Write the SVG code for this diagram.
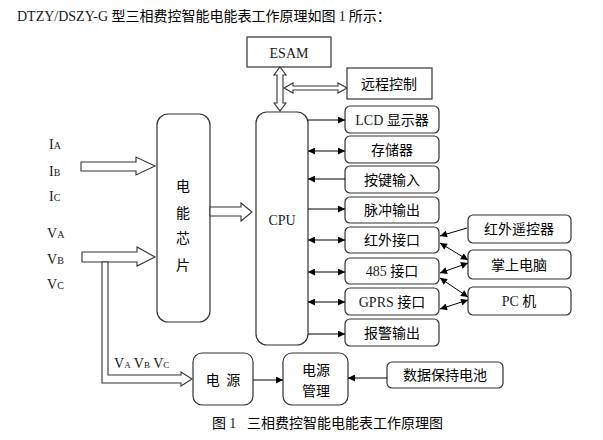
<svg xmlns="http://www.w3.org/2000/svg" width="603" height="440" viewBox="0 0 603 440">
<style>
.box{fill:#fff;stroke:#333;stroke-width:1.2}
.ln{stroke:#000;stroke-width:1;fill:none}
.ha{fill:#fff;stroke:#333;stroke-width:1.1}
.cn{font-family:"Noto Sans CJK SC","Noto Sans",sans-serif;font-size:14px;fill:#000}
.lt{font-family:"Liberation Serif","Noto Sans CJK SC",serif;font-size:14px;fill:#1a1a1a}
.sub{font-size:10px}
</style>
<defs>
<marker id="ah" viewBox="0 0 10 10" refX="10" refY="5" markerWidth="9" markerHeight="7" markerUnits="userSpaceOnUse" orient="auto-start-reverse">
<path d="M0,0 L10,5 L0,10 z" fill="#000"/>
</marker>
</defs>

<text x="17" y="21"><tspan class="lt" font-size="14.7">DTZY/DSZY-G </tspan><tspan class="cn" font-size="14.2">型三相费控智能电能表工作原理如图 </tspan><tspan class="lt" font-size="14.7">1</tspan><tspan class="cn" font-size="14.2"> 所示：</tspan></text>

<g id="esam"><rect class="box" x="247" y="37" width="84" height="30"/><text class="lt" x="289" y="58" text-anchor="middle">ESAM</text></g>
<g id="remote"><rect class="box" x="347" y="68" width="85" height="31"/><text class="cn" x="389" y="89" text-anchor="middle">远程控制</text></g>
<g id="chip"><rect class="box" x="157" y="114" width="53" height="208" rx="11"/>
<text class="cn" x="183" y="191" text-anchor="middle">电</text>
<text class="cn" x="183" y="218" text-anchor="middle">能</text>
<text class="cn" x="183" y="243" text-anchor="middle">芯</text>
<text class="cn" x="183" y="270" text-anchor="middle">片</text></g>
<g id="cpu"><rect class="box" x="256" y="112" width="52" height="233" rx="11"/><text class="lt" x="282" y="225" text-anchor="middle">CPU</text></g>

<g id="lcd"><rect class="box" x="345" y="106" width="94" height="27" rx="5"/><text x="392" y="125" text-anchor="middle"><tspan class="lt">LCD </tspan><tspan class="cn">显示器</tspan></text></g>
<g id="mem"><rect class="box" x="345" y="136" width="94" height="27" rx="5"/><text class="cn" x="392" y="155" text-anchor="middle">存储器</text></g>
<g id="key"><rect class="box" x="345" y="166" width="94" height="27" rx="5"/><text class="cn" x="392" y="185" text-anchor="middle">按键输入</text></g>
<g id="pulse"><rect class="box" x="345" y="197" width="94" height="26" rx="5"/><text class="cn" x="392" y="215" text-anchor="middle">脉冲输出</text></g>
<g id="ir"><rect class="box" x="345" y="227" width="94" height="26" rx="5"/><text class="cn" x="392" y="245" text-anchor="middle">红外接口</text></g>
<g id="rs485"><rect class="box" x="345" y="258" width="94" height="26" rx="5"/><text x="392" y="276" text-anchor="middle"><tspan class="lt">485 </tspan><tspan class="cn">接口</tspan></text></g>
<g id="gprs"><rect class="box" x="345" y="288" width="94" height="27" rx="5"/><text x="392" y="307" text-anchor="middle"><tspan class="lt">GPRS </tspan><tspan class="cn">接口</tspan></text></g>
<g id="alarm"><rect class="box" x="345" y="319" width="94" height="27" rx="5"/><text class="cn" x="392" y="338" text-anchor="middle">报警输出</text></g>

<g id="irremote"><rect class="box" x="468" y="215" width="103" height="28" rx="5"/><text class="cn" x="519" y="234" text-anchor="middle">红外遥控器</text></g>
<g id="pda"><rect class="box" x="468" y="250" width="103" height="29" rx="5"/><text class="cn" x="519" y="270" text-anchor="middle">掌上电脑</text></g>
<g id="pc"><rect class="box" x="468" y="287" width="103" height="28" rx="5"/><text x="519" y="306" text-anchor="middle"><tspan class="lt">PC </tspan><tspan class="cn">机</tspan></text></g>

<g id="power"><rect class="box" x="193" y="353" width="60" height="52" rx="9"/><text class="cn" x="223" y="385" text-anchor="middle" xml:space="preserve">电  源</text></g>
<g id="pm"><rect class="box" x="283" y="353" width="65" height="52" rx="9"/><text class="cn" x="316" y="375" text-anchor="middle">电源</text><text class="cn" x="316" y="396" text-anchor="middle">管理</text></g>
<g id="battery"><rect class="box" x="387" y="362" width="116" height="26" rx="5"/><text class="cn" x="445" y="380" text-anchor="middle">数据保持电池</text></g>

<g id="labels">
<text class="lt" x="49" y="149" font-size="15">I<tspan class="sub">A</tspan></text>
<text class="lt" x="49" y="176" font-size="15">I<tspan class="sub">B</tspan></text>
<text class="lt" x="49" y="201" font-size="15">I<tspan class="sub">C</tspan></text>
<text class="lt" x="47" y="238" font-size="15">V<tspan class="sub">A</tspan></text>
<text class="lt" x="47" y="264" font-size="15">V<tspan class="sub">B</tspan></text>
<text class="lt" x="47" y="289" font-size="15">V<tspan class="sub">C</tspan></text>
<text class="lt" x="114" y="368" font-size="12">V<tspan font-size="9">A</tspan> V<tspan font-size="9">B</tspan> V<tspan font-size="9">C</tspan></text>
<text x="212" y="428"><tspan class="cn" font-size="13">图 </tspan><tspan class="lt" font-size="13">1</tspan><tspan class="cn" font-size="13" x="247">三相费控智能电能表工作原理图</tspan></text>
</g>

<g id="connectors">
<polygon class="ha" points="280,67 286,75 283,75 283,103 286,103 280,111 274,103 277,103 277,75 274,75"/>
<polygon class="ha" points="284,88 293,83 293,86 338,86 338,83 347,88 338,93 338,90 293,90 293,93"/>
<polygon class="ha" points="81,162 136,162 136,157 155,166 136,175 136,171 81,171"/>
<polygon class="ha" points="82,252 137,252 137,247 155,257 137,266 137,262 82,262"/>
<polygon class="ha" points="210,207 241,207 241,203 252,212 241,221 241,216 210,216"/>
<polygon class="ha" points="102,262 102,383 181,383 181,386 192,379 181,372 181,375 108,375 108,262"/>

<line class="ln" x1="308" y1="120" x2="345" y2="120" marker-end="url(#ah)"/>
<line class="ln" x1="308" y1="151" x2="345" y2="151" marker-start="url(#ah)" marker-end="url(#ah)"/>
<line class="ln" x1="345" y1="179" x2="308" y2="179" marker-end="url(#ah)"/>
<line class="ln" x1="308" y1="209" x2="345" y2="209" marker-end="url(#ah)"/>
<line class="ln" x1="308" y1="240" x2="345" y2="240" marker-start="url(#ah)" marker-end="url(#ah)"/>
<line class="ln" x1="308" y1="272" x2="345" y2="272" marker-start="url(#ah)" marker-end="url(#ah)"/>
<line class="ln" x1="308" y1="302" x2="345" y2="302" marker-start="url(#ah)" marker-end="url(#ah)"/>
<line class="ln" x1="308" y1="334" x2="345" y2="334" marker-end="url(#ah)"/>

<line class="ln" x1="467" y1="228" x2="440" y2="236" marker-end="url(#ah)"/>
<line class="ln" x1="440" y1="243" x2="468" y2="260" marker-start="url(#ah)" marker-end="url(#ah)"/>
<line class="ln" x1="440" y1="273" x2="468" y2="263" marker-start="url(#ah)" marker-end="url(#ah)"/>
<line class="ln" x1="440" y1="278" x2="468" y2="297" marker-start="url(#ah)" marker-end="url(#ah)"/>
<line class="ln" x1="440" y1="309" x2="468" y2="300" marker-start="url(#ah)" marker-end="url(#ah)"/>

<line class="ln" x1="253" y1="380" x2="283" y2="380" marker-end="url(#ah)"/>
<line class="ln" x1="387" y1="378" x2="348" y2="378" marker-end="url(#ah)"/>
</g>
</svg>
